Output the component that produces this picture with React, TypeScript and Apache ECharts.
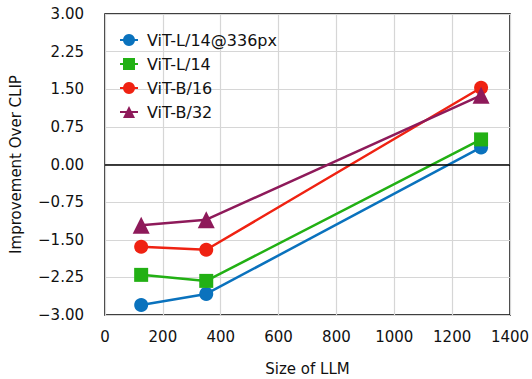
import React, { useEffect, useRef } from "react";
import * as echarts from "echarts";

const llmSizes = [125, 350, 1300];
const seriesNames = ["ViT-L/14@336px", "ViT-L/14", "ViT-B/16", "ViT-B/32"];
const vitL14_336 = [-2.8, -2.58, 0.34];
const vitL14 = [-2.2, -2.32, 0.5];
const vitB16 = [-1.64, -1.7, 1.53];
const vitB32 = [-1.21, -1.1, 1.38];

const colors = ["#0a72bd", "#22b014", "#ef2212", "#8e1a5a"];
const symbols = ["circle", "rect", "circle", "triangle"];

export default function App() {
  const ref = useRef<HTMLDivElement>(null);
  useEffect(() => {
    if (!ref.current) return;
    const chart = echarts.init(ref.current, null, { renderer: "svg" });
    const allData = [vitL14_336, vitL14, vitB16, vitB32];
    const font = "DejaVu Sans";
    chart.setOption({
      animation: false,
      textStyle: { fontFamily: font },
      grid: {
        left: 105,
        right: 22,
        top: 14,
        bottom: 64,
        show: true,
        borderColor: "#000",
        borderWidth: 1.5,
        containLabel: false,
        outerBoundsMode: "none",
      },
      legend: {
        orient: "vertical",
        left: 114,
        top: 27,
        itemWidth: 18,
        itemHeight: 15,
        itemGap: 8,
        textStyle: { fontFamily: font, fontSize: 16, color: "#111", padding: [0, 0, 0, 4] },
        data: seriesNames,
      },
      xAxis: {
        type: "value",
        min: 0,
        max: 1400,
        interval: 200,
        name: "Size of LLM",
        nameLocation: "middle",
        nameGap: 46,
        nameTextStyle: { fontSize: 15, color: "#111", fontFamily: font },
        axisLine: { show: false },
        axisTick: { show: false },
        axisLabel: {
          fontSize: 15,
          color: "#111",
          margin: 14,
          formatter: (v: number) => String(v),
        },
        splitLine: { show: true, lineStyle: { color: "#d6d6d6", width: 1.2 } },
      },
      yAxis: {
        type: "value",
        min: -3,
        max: 3,
        interval: 0.75,
        name: "Improvement Over CLIP",
        nameLocation: "middle",
        nameGap: 82,
        nameTextStyle: { fontSize: 15, color: "#111", fontFamily: font },
        axisLine: { show: false },
        axisTick: { show: false },
        axisLabel: {
          fontSize: 15,
          color: "#111",
          margin: 21,
          formatter: (v: number) => v.toFixed(2).replace("-", "\u2212"),
        },
        splitLine: { show: true, lineStyle: { color: "#d6d6d6", width: 1.2 } },
      },
      series: seriesNames.map((name, i) => ({
        name,
        type: "line",
        data: llmSizes.map((x, j) => [x, allData[i][j]]),
        symbol: symbols[i],
        symbolSize: i === 3 ? 17 : 14,
        showSymbol: true,
        z: 2 + i,
        lineStyle: { color: colors[i], width: 2.5 },
        itemStyle: { color: colors[i] },
        ...(i === 0
          ? {
              markLine: {
                silent: true,
                symbol: "none",
                label: { show: false },
                lineStyle: { color: "#000", width: 1.5, type: "solid" },
                data: [{ yAxis: 0 }],
              },
            }
          : {}),
      })),
    });
    return () => chart.dispose();
  }, []);
  return (
    <div
      ref={ref}
      style={{ position: "absolute", left: 0, top: 0, width: 532, height: 379 }}
    />
  );
}
